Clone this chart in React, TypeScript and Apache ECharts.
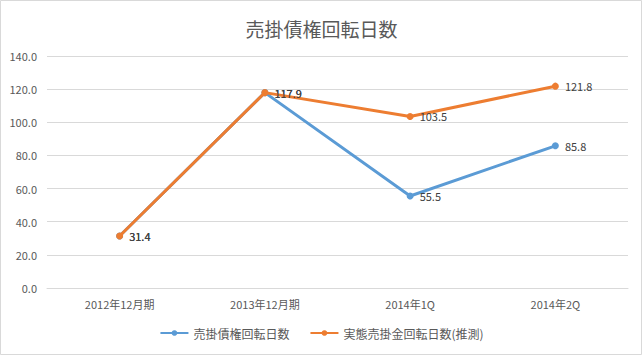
import React, { useEffect, useRef } from "react";
import * as echarts from "echarts";

const title = "売掛債権回転日数";
const categories = ["2012年12月期", "2013年12月期", "2014年1Q", "2014年2Q"];
const seriesNames = ["売掛債権回転日数", "実態売掛金回転日数(推測)"];
const receivableDays = [31.4, 117.9, 55.5, 85.8];
const actualDays = [31.4, 117.9, 103.5, 121.8];
const colors = ["#5B9BD5", "#ED7D31"];

const FONT = "'Noto Sans CJK JP', 'Liberation Sans', sans-serif";

export default function App() {
  const ref = useRef<HTMLDivElement>(null);
  useEffect(() => {
    document.body.style.margin = "0";
    const chart = echarts.init(ref.current!, null, { renderer: "svg" });
    const mkSeries = (name: string, data: number[], color: string, z: number) => ({
      name,
      type: "line",
      data,
      z,
      symbol: "circle",
      symbolSize: 7,
      lineStyle: { color, width: 3 },
      itemStyle: { color },
      label: {
        show: true,
        position: "right",
        distance: 6,
        formatter: (p: any) => p.value.toFixed(1),
        color: "#404040",
        fontSize: 11,
        fontFamily: FONT,
      },
    });
    chart.setOption({
      animation: false,
      backgroundColor: "#fff",
      textStyle: { fontFamily: FONT },
      graphic: [
        {
          type: "rect",
          shape: { x: 0.5, y: 0.5, width: 641, height: 354 },
          style: { fill: "none", stroke: "#d9d9d9", lineWidth: 1 },
          silent: true,
        },
      ],
      title: {
        text: title,
        left: "center",
        top: 14,
        textStyle: { fontSize: 19, fontWeight: "normal", color: "#595959", fontFamily: FONT },
      },
      grid: { left: 47, right: 15, top: 56, bottom: 68, containLabel: false },
      legend: {
        bottom: 12,
        left: "center",
        itemWidth: 28,
        itemHeight: 7,
        itemGap: 20,
        data: seriesNames,
        textStyle: { fontSize: 12, color: "#595959", fontFamily: FONT },
      },
      xAxis: {
        type: "category",
        data: categories,
        boundaryGap: true,
        axisLine: { lineStyle: { color: "#d9d9d9", width: 1 } },
        axisTick: { show: false },
        axisLabel: { color: "#595959", fontSize: 11, margin: 10, fontFamily: FONT },
      },
      yAxis: {
        type: "value",
        min: 0,
        max: 140,
        interval: 20,
        axisLine: { show: false },
        axisTick: { show: false },
        splitLine: { lineStyle: { color: "#d9d9d9", width: 1 } },
        axisLabel: {
          color: "#595959",
          fontSize: 11,
          margin: 10,
          fontFamily: FONT,
          formatter: (v: number) => v.toFixed(1),
        },
      },
      series: [
        mkSeries(seriesNames[0], receivableDays, colors[0], 2),
        mkSeries(seriesNames[1], actualDays, colors[1], 3),
      ],
    });
    return () => chart.dispose();
  }, []);
  return <div ref={ref} style={{ width: 643, height: 356 }} />;
}
